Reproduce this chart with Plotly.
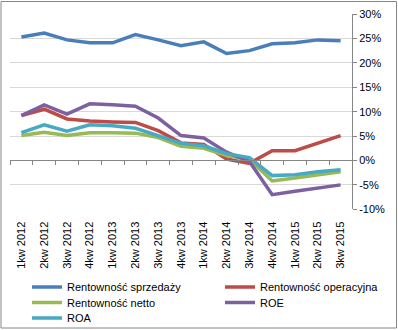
import plotly.graph_objects as go

categories = ["1kw 2012", "2kw 2012", "3kw 2012", "4kw 2012",
              "1kw 2013", "2kw 2013", "3kw 2013", "4kw 2013",
              "1kw 2014", "2kw 2014", "3kw 2014", "4kw 2014",
              "1kw 2015", "2kw 2015", "3kw 2015"]

rent_sprzedazy = [25.3, 26.1, 24.7, 24.1, 24.1, 25.8, 24.7, 23.5, 24.3, 21.9, 22.5, 23.9, 24.1, 24.7, 24.5]
rent_operacyjna = [9.2, 10.5, 8.5, 8.1, 7.9, 7.8, 6.1, 3.6, 3.3, 0.3, -0.6, 2.0, 2.0, 3.6, 5.1]
rent_netto = [5.1, 5.8, 5.1, 5.7, 5.7, 5.6, 4.7, 2.9, 2.5, 1.0, 0.2, -4.2, -3.6, -2.9, -2.3]
roe = [9.2, 11.4, 9.5, 11.6, 11.4, 11.1, 8.7, 5.1, 4.6, 1.7, -0.2, -7.0, -6.3, -5.7, -5.0]
roa = [5.7, 7.3, 6.0, 7.3, 7.1, 6.6, 5.1, 3.5, 3.0, 1.4, 0.6, -3.1, -2.9, -2.3, -1.9]

y_ticks = [-10, -5, 0, 5, 10, 15, 20, 25, 30]
y_tick_labels = ["-10%", "-5%", "0%", "5%", "10%", "15%", "20%", "25%", "30%"]
y_range = [-10, 30]

series = [
    ("Rentowność sprzedaży", rent_sprzedazy, "#4A7EBB"),
    ("Rentowność operacyjna", rent_operacyjna, "#BE4B48"),
    ("Rentowność netto", rent_netto, "#98B954"),
    ("ROE", roe, "#7D60A0"),
    ("ROA", roa, "#46AAC5"),
]

W, H = 398, 330
ml, mr, mt, mb = 10, 46, 14, 4
pw, ph = W - ml - mr, H - mt - mb
plot_bottom_px = 209.3
y_dom0 = (H - mb - plot_bottom_px) / ph

def py(pix):
    return (H - mb - pix) / ph

def px(pix):
    return (pix - ml) / pw

# legend slots: (x pixel of legend left, y pixel of row centre)
legend_slots = [(27, 287), (220, 287), (27, 302.5), (220, 302.5), (27, 318)]
legend_ids = ["legend", "legend2", "legend3", "legend4", "legend5"]

font = dict(family="Liberation Sans, Arial, sans-serif", size=11, color="#000000")

fig = go.Figure()
for (name, vals, col), lid in zip(series, legend_ids):
    fig.add_trace(go.Scatter(x=categories, y=vals, name=name, mode="lines",
                             line=dict(color=col, width=3.5), legend=lid))

# invisible trace carrying the zero-crossing category axis
fig.add_trace(go.Scatter(x=categories, y=[None] * len(categories), xaxis="x2",
                         showlegend=False, hoverinfo="skip"))

zero_frac = (0 - y_range[0]) / (y_range[1] - y_range[0])

layout = dict(
    width=W, height=H,
    margin=dict(l=ml, r=mr, t=mt, b=mb, pad=0, autoexpand=False),
    paper_bgcolor="white", plot_bgcolor="white",
    font=font,
    showlegend=True,
    xaxis=dict(type="category", categoryorder="array", categoryarray=categories,
               range=[-0.5, len(categories) - 0.5], anchor="y",
               showline=False, showgrid=False, zeroline=False,
               ticks="outside", ticklen=7, tickcolor="rgba(0,0,0,0)",
               tickangle=-90, tickfont=font, automargin=False),
    xaxis2=dict(type="category", categoryorder="array", categoryarray=categories,
                range=[-0.5, len(categories) - 0.5],
                overlaying="x", anchor="free",
                position=y_dom0 + zero_frac * (1 - y_dom0),
                showline=True, linecolor="#868686", linewidth=1,
                ticks="outside", tickson="boundaries", ticklen=4,
                tickcolor="#868686", showticklabels=False,
                showgrid=False, zeroline=False),
    yaxis=dict(range=y_range, tickmode="array", tickvals=y_ticks, ticktext=y_tick_labels,
               side="right", domain=[y_dom0, 1],
               showline=True, linecolor="#868686", linewidth=1,
               ticks="outside", ticklen=4, tickcolor="#868686",
               showgrid=True, gridcolor="#D9D9D9", gridwidth=1,
               zeroline=False, tickfont=font, automargin=False),
    shapes=[dict(type="rect", xref="paper", yref="paper",
                 x0=px(1), x1=px(W - 1.5), y0=py(H - 2), y1=py(1.5),
                 line=dict(color="#868686", width=1), fillcolor="rgba(0,0,0,0)",
                 layer="below")],
)
for lid, (lx, ly) in zip(legend_ids, legend_slots):
    layout[lid] = dict(x=px(lx), xanchor="left", y=py(ly), yanchor="middle",
                       orientation="h", font=font, bgcolor="rgba(0,0,0,0)",
                       borderwidth=0, itemwidth=30)

fig.update_layout(**layout)
fig.write_html("out.html")
